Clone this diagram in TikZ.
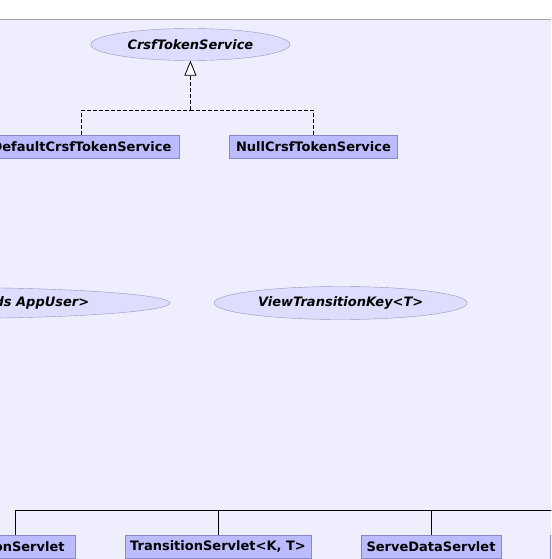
\documentclass[tikz,border=0pt]{standalone}
\usepackage{fontspec}
\setmainfont{DejaVu Sans}
\usetikzlibrary{arrows.meta,shapes.geometric}

\definecolor{pagecol}{RGB}{238,238,255}
\definecolor{framecol}{RGB}{160,160,184}
\definecolor{ifacefill}{RGB}{221,221,255}
\definecolor{ifaceline}{RGB}{150,150,180}
\definecolor{classfill}{RGB}{187,187,255}
\definecolor{classline}{RGB}{136,136,200}

\tikzset{
  iface/.style={ellipse, draw=ifaceline, fill=ifacefill, inner sep=0pt,
    font=\fontsize{13}{15}\selectfont\bfseries\itshape},
  classbox/.style={rectangle, draw=classline, fill=classfill, inner sep=0pt,
    minimum height=23pt, font=\fontsize{13}{15}\selectfont\bfseries},
  realize/.style={dash pattern=on 4pt off 2pt, line width=0.8pt},
  extend/.style={line width=0.8pt}
}

\begin{document}
\begin{tikzpicture}[x=1pt,y=-1pt]

	%page and frame
	\useasboundingbox (0,0) rectangle (551,559);
	\clip (0,0) rectangle (551,559);
	\fill[white] (0,0) rectangle (551,19);
	\fill[pagecol] (0,19) rectangle (551,559);
	\draw[framecol] (0,19) -- (551,19);

	%the token service and its two classes
	\node[iface, minimum width=199pt, minimum height=32pt] (token) at (190.4,44.5) {CrsfTokenService};
	\node[classbox, minimum width=195pt] (default) at (81.5,146.5) {DefaultCrsfTokenService};
	\node[classbox, minimum width=168pt] (null) at (313.5,146.5) {NullCrsfTokenService};
	\coordinate (tokjoin) at (190.4,110);

	\draw[realize] (default.north) |- (tokjoin);
	\draw[realize] (null.north) |- (tokjoin);
	\draw[realize, -{Triangle[open, length=15pt, width=12pt, line width=0.8pt, fill=white]}] (tokjoin) -- (token.south);

	%the two free interfaces
	\node[iface, minimum width=446pt, minimum height=31pt] (userkey) at (-53,303) {AppUserProvider<T extends AppUser>};
	\node[iface, minimum width=253pt, minimum height=33pt] (viewkey) at (340.7,303) {ViewTransitionKey<\textit{T}>};

	%the servlets
	\node[classbox, minimum width=121pt] (action) at (15,546.5) {ActionServlet};
	\node[classbox, minimum width=186pt] (transition) at (218,546.5) {TransitionServlet<K, T>};
	\node[classbox, minimum width=140pt] (serve) at (431,546.5) {ServeDataServlet};
	\node[classbox, minimum width=140pt] (upload) at (620,546.5) {UploadServlet};
	\coordinate (servjoin) at (700,510);

	\draw[extend] (action.north) |- (servjoin);
	\draw[extend] (transition.north) |- (servjoin);
	\draw[extend] (serve.north) |- (servjoin);
	\draw[extend] (upload.north) |- (servjoin);

\end{tikzpicture}
\end{document}
